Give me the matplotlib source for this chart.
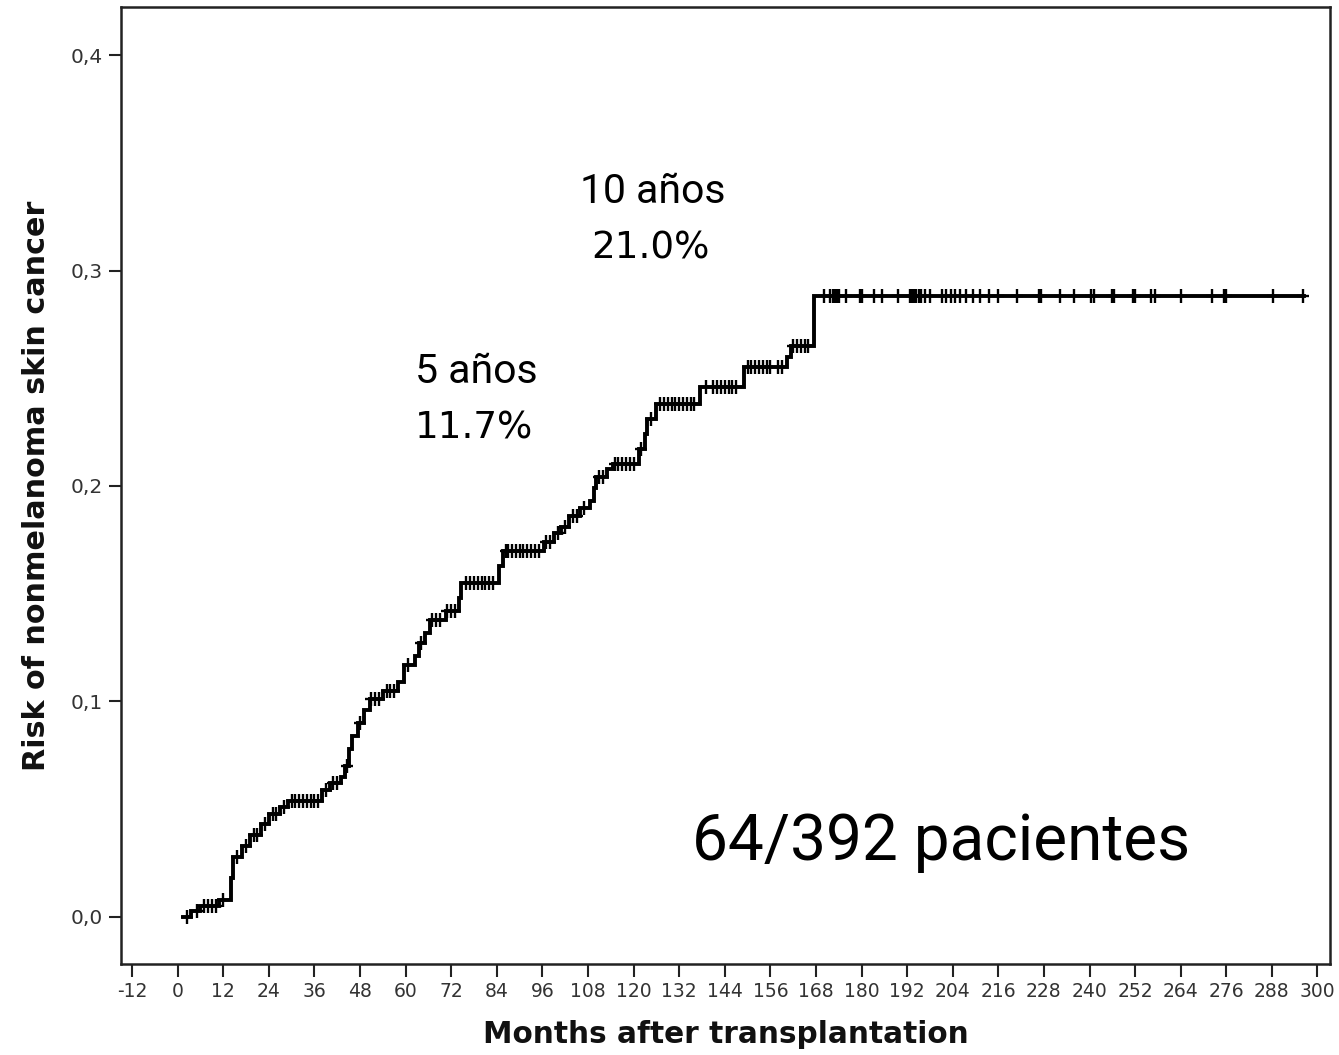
import matplotlib
matplotlib.use("Agg")
import matplotlib.pyplot as plt
import numpy as np
from matplotlib import font_manager
from matplotlib.ticker import FuncFormatter

plt.rcParams["axes.unicode_minus"] = False

# Kaplan-Meier style cumulative risk (event times in months, risk after each step)
event_months = [0, 3.5, 6, 11, 14, 14.5, 17, 19, 22, 24, 27, 29, 38, 40, 43, 44, 45,
                46, 47.5, 49, 50.5, 54, 58, 59.5, 62.5, 63.5, 65, 66.5, 70.5, 74,
                74.5, 84.5, 85.5, 96.5, 99, 101, 103, 106, 108.5, 109.5, 110, 113,
                114.5, 121.5, 123, 123.5, 126, 137.5, 149, 160.5, 161.5, 167.5]
cum_risk = [0.0, 0.0026, 0.0051, 0.0077, 0.018, 0.028, 0.033, 0.038, 0.043, 0.048,
            0.051, 0.054, 0.059, 0.062, 0.065, 0.070, 0.078, 0.084, 0.090, 0.096,
            0.101, 0.105, 0.109, 0.117, 0.121, 0.127, 0.132, 0.138, 0.142, 0.148,
            0.155, 0.163, 0.170, 0.174, 0.178, 0.181, 0.186, 0.190, 0.193, 0.199,
            0.204, 0.208, 0.210, 0.217, 0.224, 0.231, 0.238, 0.246, 0.255, 0.260,
            0.265, 0.288]
follow_start = 1.4
follow_end = 296.5

# Censored observations (months)
censored_months = [2.5, 5, 7, 8, 9, 10, 12, 15.5, 18, 20, 21, 23, 25, 26, 28, 30, 31,
                   32, 33, 34, 35, 36, 37, 39, 41, 42, 44.5, 48, 51, 52, 53, 55, 56,
                   57, 60.5, 64, 67, 68, 69, 71, 72, 73, 76, 77, 78, 79, 80, 81, 82,
                   83, 86.5, 87, 88, 89, 90, 91, 92, 93, 94, 95, 97, 98, 100, 102,
                   104, 105, 107, 111, 112, 115, 116, 117, 118, 119, 120, 122, 124.5,
                   127, 128, 129, 130, 131, 132, 133, 134, 135, 136, 139, 141, 142,
                   143, 144, 145, 146, 147, 150, 151, 152, 153, 154, 155, 156, 158,
                   159, 162, 163, 164, 165, 166,
                   170.2, 171.7, 172.6, 173.1, 173.5, 174.0, 175.9, 179.6, 180.1,
                   183.4, 185.3, 189.5, 192.8, 193.3, 193.7, 194.2, 195.2, 195.6,
                   196.6, 198.0, 201.3, 202.2, 203.6, 204.6, 206.0, 207.4, 209.3,
                   211.1, 213.5, 215.8, 221.0, 226.6, 227.1, 232.3, 236.0, 240.3,
                   241.2, 245.9, 246.4, 251.5, 252.0, 256.2, 257.2, 264.2, 272.2,
                   275.5, 276.0, 288.2, 296.2]

x_ticks = list(range(-12, 301, 12))
y_ticks = [0.0, 0.1, 0.2, 0.3, 0.4]

available = {f.name for f in font_manager.fontManager.ttflist}
narrow = "Liberation Sans Narrow" if "Liberation Sans Narrow" in available else "Roboto"

fig = plt.figure(figsize=(13.39, 10.55), dpi=100)
ax = fig.add_axes([0.0904, 0.0863, 0.9029, 0.9071])

step_x = [follow_start] + event_months[1:] + [follow_end]
step_y = cum_risk + [cum_risk[-1]]
ax.step(step_x, step_y, where="post", color="black", lw=2.8, solid_joinstyle="miter")

cens_y = [cum_risk[np.searchsorted(event_months, m, side="right") - 1] for m in censored_months]
ax.plot(censored_months, cens_y, linestyle="none", marker="|", markersize=10,
        markeredgewidth=1.7, color="black")
ax.plot(censored_months, cens_y, linestyle="none", marker="_", markersize=8,
        markeredgewidth=1.7, color="black")

ax.set_xlim(-14.9, 303.3)
ax.set_ylim(-0.0218, 0.4223)
ax.set_xticks(x_ticks)
ax.set_yticks(y_ticks)
ax.yaxis.set_major_formatter(FuncFormatter(lambda v, p: f"{v:.1f}".replace(".", ",")))
ax.tick_params(axis="both", direction="out", length=9, width=1.5, color="#222222",
               labelcolor="#333333", pad=4)
ax.tick_params(axis="x", labelsize=13.5)
ax.tick_params(axis="y", labelsize=14.5)
for s in ax.spines.values():
    s.set_linewidth(1.8)
    s.set_color("#222222")

ax.set_xlabel("Months after transplantation", fontsize=21.3, fontweight="bold",
              color="#111111", labelpad=14)
ax.set_ylabel("Risk of nonmelanoma skin cancer", fontsize=21.8, fontweight="bold",
              color="#111111", labelpad=14)

ax.text(125, 0.3365, "10 años", ha="center", va="center", fontsize=29.5, family=narrow)
ax.text(124.5, 0.3105, "21.0%", ha="center", va="center", fontsize=26.8, family="DejaVu Sans")
ax.text(78.5, 0.253, "5 años", ha="center", va="center", fontsize=29.5, family=narrow)
ax.text(78, 0.227, "11.7%", ha="center", va="center", fontsize=26.8, family="DejaVu Sans")
ax.text(201, 0.035, "64/392 pacientes", ha="center", va="center", fontsize=46, family=narrow)

fig.savefig("out.png", dpi=100)
